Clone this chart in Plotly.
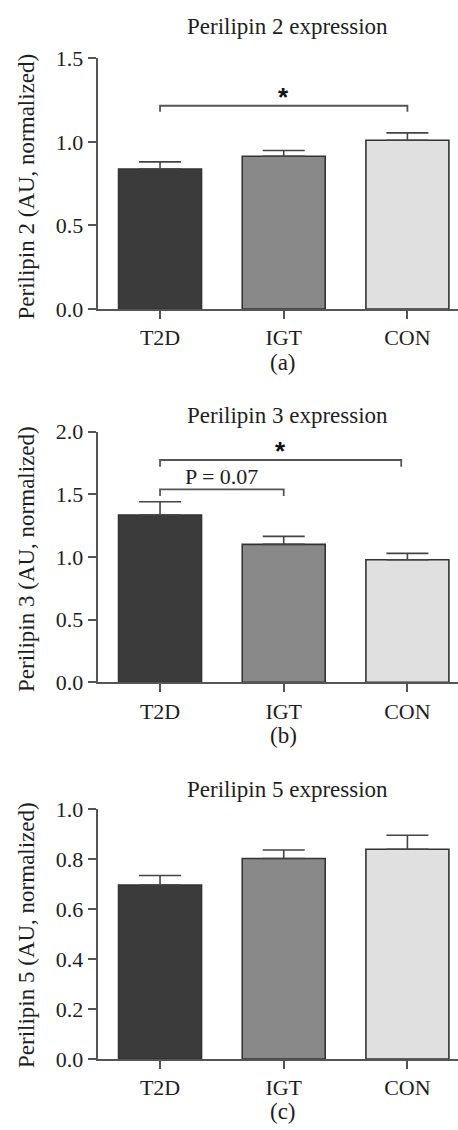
import plotly.graph_objects as go

categories = ["T2D", "IGT", "CON"]
bar_colors = ["#3b3b3b", "#898989", "#e0e0e0"]

titles = ["Perilipin 2 expression", "Perilipin 3 expression", "Perilipin 5 expression"]
ytitles = ["Perilipin 2 (AU, normalized)", "Perilipin 3 (AU, normalized)", "Perilipin 5 (AU, normalized)"]
panel_labels = ["(a)", "(b)", "(c)"]

plin2_mean = [0.838, 0.914, 1.010]
plin2_sem = [0.042, 0.034, 0.044]
plin3_mean = [1.335, 1.101, 0.978]
plin3_sem = [0.106, 0.064, 0.051]
plin5_mean = [0.697, 0.803, 0.840]
plin5_sem = [0.038, 0.034, 0.056]

y_ranges = [[0, 1.5], [0, 2.0], [0, 1.0]]
y_dtick = [0.5, 0.5, 0.2]

# brackets: (panel, x_left, x_right, y, drop, label)
brackets = [
    (0, 0, 2, 1.216, 0.036, "*"),
    (1, 0, 1.95, 1.774, 0.054, "*"),
    (1, 0, 1, 1.540, 0.053, "P = 0.07"),
]

W, H = 458, 1130
FONT = "Liberation Serif"
AX = "#555555"
TXT = "#1e1e1e"

panel_px = [(58.3, 309.0), (431.7, 682.3), (809.3, 1059.0)]
title_y_px = [26, 415.7, 789.3]
label_y_px = [362, 735.7, 1111.7]
ytitle_center_px = [186.5, 559.0, 935.0]
x_dom = [97.7 / W, 457.5 / W]

fig = go.Figure()
means = [plin2_mean, plin3_mean, plin5_mean]
sems = [plin2_sem, plin3_sem, plin5_sem]

layout = dict(
    width=W, height=H, margin=dict(l=0, r=0, t=0, b=0),
    paper_bgcolor="white", plot_bgcolor="white", showlegend=False,
    font=dict(family=FONT, color=TXT, size=20),
)
annotations = []
shapes = []

for i in range(3):
    ax_suffix = "" if i == 0 else str(i + 1)
    xa = "x" + ax_suffix
    ya = "y" + ax_suffix
    fig.add_trace(go.Bar(
        x=categories, y=means[i], xaxis=xa, yaxis=ya,
        width=0.671,
        marker=dict(color=bar_colors, line=dict(color="#333333", width=1.6)),
        error_y=dict(type="data", symmetric=False, array=sems[i], arrayminus=[0, 0, 0],
                     color="#444444", thickness=1.6, width=21),
        hoverinfo="skip",
    ))
    top, bot = panel_px[i]
    dom = [1 - bot / H, 1 - top / H]
    layout["xaxis" + ax_suffix] = dict(
        domain=x_dom, anchor=ya, type="category", range=[-0.504, 2.405],
        showline=True, linecolor=AX, linewidth=2, ticks="outside", ticklen=8,
        tickcolor=AX, tickwidth=2, tickfont=dict(family=FONT, size=22, color=TXT),
        showgrid=False, zeroline=False, fixedrange=True, automargin=False,
    )
    layout["yaxis" + ax_suffix] = dict(
        domain=dom, anchor=xa, range=y_ranges[i], dtick=y_dtick[i], tick0=0,
        tickformat=".1f", showline=True, linecolor=AX, linewidth=2,
        ticks="outside", ticklen=8, tickcolor=AX, tickwidth=2,
        tickfont=dict(family=FONT, size=22, color=TXT),
        showgrid=False, zeroline=False, fixedrange=True, automargin=False,
    )
    annotations.append(dict(
        text=titles[i], xref="paper", yref="paper", x=287 / W, y=1 - title_y_px[i] / H,
        showarrow=False, xanchor="center", yanchor="middle",
        font=dict(family=FONT, size=23, color=TXT),
    ))
    annotations.append(dict(
        text=panel_labels[i], xref="paper", yref="paper", x=283 / W, y=1 - label_y_px[i] / H,
        showarrow=False, xanchor="center", yanchor="middle",
        font=dict(family=FONT, size=23, color=TXT),
    ))
    annotations.append(dict(
        text=ytitles[i], xref="paper", yref="paper", x=26 / W, y=1 - ytitle_center_px[i] / H,
        showarrow=False, xanchor="center", yanchor="middle", textangle=-90,
        font=dict(family=FONT, size=23, color=TXT),
    ))

for (p, xl, xr, yb, drop, lab) in brackets:
    ax_suffix = "" if p == 0 else str(p + 1)
    xa = "x" + ax_suffix
    ya = "y" + ax_suffix
    shapes.append(dict(
        type="path", xref=xa, yref=ya,
        path=f"M {xl} {yb - drop} L {xl} {yb} L {xr} {yb} L {xr} {yb - drop}",
        line=dict(color="#555555", width=1.8),
    ))
    if lab == "*":
        annotations.append(dict(
            text="<b>*</b>", xref=xa, yref=ya, x=(xl + xr) / 2, y=yb,
            showarrow=False, xanchor="center", yanchor="bottom", yshift=-8,
            font=dict(family="Liberation Sans", size=26, color="#111111"),
        ))
    else:
        annotations.append(dict(
            text=lab, xref=xa, yref=ya, x=(xl + xr) / 2, y=yb,
            showarrow=False, xanchor="center", yanchor="bottom", yshift=-2,
            font=dict(family=FONT, size=22, color=TXT),
        ))

layout["annotations"] = annotations
layout["shapes"] = shapes
fig.update_layout(**layout)
fig.write_html("out.html", config={"displayModeBar": False},
               post_script="document.body.style.margin='0';")
